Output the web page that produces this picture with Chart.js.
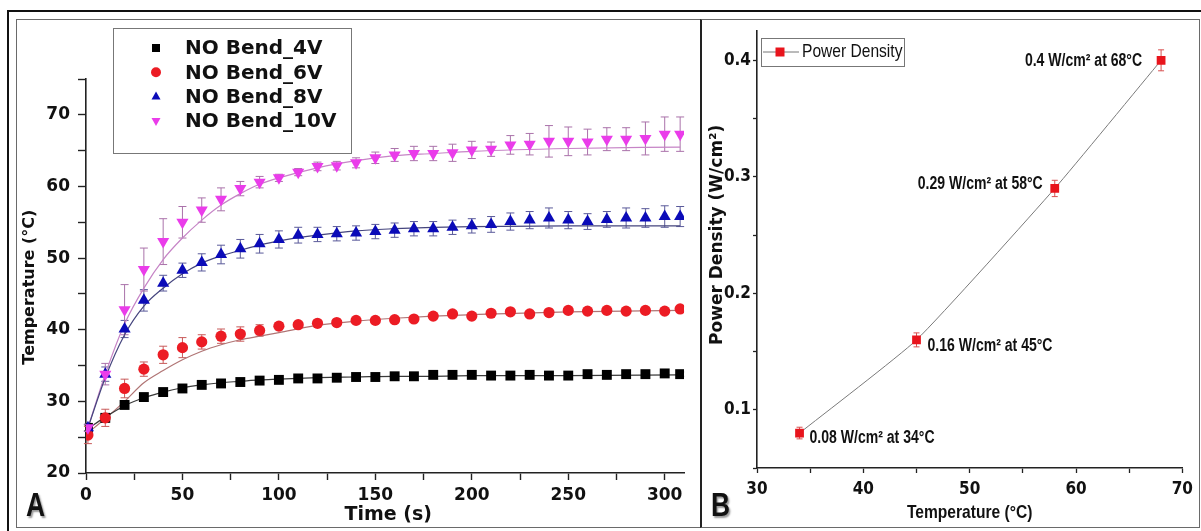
<!DOCTYPE html>
<html>
<head>
<meta charset="utf-8">
<title>Heating response and power density</title>
<script src="https://cdn.jsdelivr.net/npm/chart.js@4.4.1/dist/chart.umd.min.js"></script>
<style>
  html, body { margin: 0; padding: 0; background: #fff; }
  body { width: 1201px; height: 531px; position: relative; overflow: hidden; }
  .frame { position: absolute; box-sizing: border-box; }
  #outer { left: 7px; top: 10px; width: 1194px; height: 521px; border-left: 2px solid #111; border-top: 2px solid #111; }
  #boxA { left: 16px; top: 19px; width: 685px; height: 509px; border: 1.5px solid #6a6a6a; }
  #boxB { left: 700px; top: 19px; width: 500px; height: 509px; border: 1.5px solid #6a6a6a; border-left: 2px solid #222; }
  canvas { position: absolute; }
  #tempChart { left: 16px; top: 19px; }
  #powerChart { left: 700px; top: 19px; }
  .tag { position: absolute; font: bold 33px 'Liberation Sans', sans-serif; line-height: 33px; color: #111; text-shadow: 2px 2px 2px #999; transform: scaleX(0.8); transform-origin: left top; }
</style>
</head>
<body>
<div class="frame" id="outer"></div>
<div class="frame" id="boxA"></div>
<div class="frame" id="boxB"></div>
<canvas id="tempChart" width="684" height="508"></canvas>
<canvas id="powerChart" width="499" height="508"></canvas>
<div class="tag" style="left:26px; top:488px;">A</div>
<div class="tag" style="left:711px; top:488px;">B</div>

<script>
// heating curves (temperature vs time) at four voltages
const time = [1, 10, 20, 30, 40, 50, 60, 70, 80, 90, 100, 110, 120, 130, 140, 150, 160, 170, 180, 190, 200, 210, 220, 230, 240, 250, 260, 270, 280, 290, 300, 308];
const bend4V = [26.3, 27.7, 29.5, 30.6, 31.3, 31.8, 32.3, 32.5, 32.7, 32.9, 33.0, 33.2, 33.2, 33.3, 33.4, 33.4, 33.5, 33.5, 33.7, 33.7, 33.7, 33.6, 33.6, 33.7, 33.6, 33.6, 33.8, 33.7, 33.8, 33.8, 33.9, 33.8];
const bend6V = [25.3, 27.7, 31.8, 34.5, 36.5, 37.5, 38.3, 39.1, 39.4, 39.9, 40.5, 40.7, 40.9, 41.0, 41.3, 41.3, 41.4, 41.5, 41.9, 42.2, 41.9, 42.3, 42.5, 42.2, 42.4, 42.7, 42.6, 42.7, 42.6, 42.7, 42.6, 42.9];
const bend8V = [26.3, 33.8, 40.1, 44.1, 46.5, 48.3, 49.4, 50.5, 51.3, 52.0, 52.6, 53.2, 53.3, 53.4, 53.5, 53.7, 53.9, 54.1, 54.1, 54.3, 54.5, 54.7, 55.1, 55.3, 55.6, 55.3, 55.1, 55.4, 55.6, 55.6, 55.8, 55.8];
const bend10V = [26.3, 33.8, 42.8, 48.4, 52.3, 55.0, 56.7, 58.2, 59.7, 60.6, 61.2, 62.0, 62.8, 62.9, 63.3, 64.0, 64.4, 64.6, 64.6, 64.7, 65.1, 65.2, 65.8, 65.9, 66.3, 66.3, 66.2, 66.6, 66.6, 66.7, 67.3, 67.3];

// standard deviations
const err4V = [0.4, 0.6, 0.4, 0.3, 0.3, 0.3, 0.3, 0.3, 0.3, 0.3, 0.3, 0.3, 0.3, 0.3, 0.3, 0.3, 0.3, 0.3, 0.3, 0.3, 0.3, 0.3, 0.3, 0.3, 0.3, 0.3, 0.3, 0.3, 0.3, 0.3, 0.3, 0.3];
const err6V = [1.2, 1.2, 1.3, 1.0, 1.2, 1.4, 1.0, 1.0, 1.0, 0.8, 0.5, 0.4, 0.4, 0.4, 0.4, 0.4, 0.3, 0.3, 0.3, 0.3, 0.3, 0.3, 0.3, 0.3, 0.3, 0.3, 0.3, 0.3, 0.3, 0.3, 0.3, 0.3];
const err8V = [0.5, 1.0, 1.2, 1.5, 1.1, 1.0, 1.2, 1.3, 1.3, 1.3, 1.2, 1.1, 1.0, 1.0, 1.0, 1.0, 1.0, 1.0, 1.0, 1.0, 1.0, 1.1, 1.2, 1.2, 1.4, 1.2, 1.1, 1.1, 1.4, 1.3, 1.5, 1.4];
const err10V = [0.5, 1.5, 3.5, 3.0, 3.2, 2.2, 1.7, 1.6, 1.0, 0.8, 0.5, 0.5, 0.6, 0.6, 0.7, 0.8, 0.9, 1.0, 1.0, 1.2, 1.2, 1.0, 1.3, 1.5, 2.2, 2.0, 1.8, 1.6, 1.6, 2.3, 2.4, 2.4];

// fitted curves
const fitTime = [1, 10, 20, 30, 40, 50, 60, 70, 80, 90, 100, 120, 140, 160, 180, 200, 250, 308];
const fit4V = [26.2, 27.8, 29.4, 30.5, 31.3, 31.9, 32.3, 32.6, 32.8, 33.0, 33.1, 33.3, 33.4, 33.5, 33.5, 33.6, 33.6, 33.7];
const fit6V = [25.6, 27.6, 30.0, 32.6, 34.3, 35.8, 37.0, 37.9, 38.6, 39.1, 39.6, 40.6, 41.2, 41.6, 41.9, 42.1, 42.5, 42.7];
const fit8V = [26.3, 33.3, 39.3, 43.3, 45.8, 47.8, 49.3, 50.3, 51.1, 51.8, 52.4, 53.2, 53.8, 54.1, 54.3, 54.4, 54.5, 54.5];
const fit10V = [26.3, 33.8, 40.8, 45.8, 49.8, 52.8, 55.3, 57.4, 59.0, 60.3, 61.2, 62.6, 63.6, 64.3, 64.6, 64.9, 65.3, 65.5];

const seriesNames = ['NO Bend_4V', 'NO Bend_6V', 'NO Bend_8V', 'NO Bend_10V'];

const timeTicks = [0, 25, 50, 75, 100, 125, 150, 175, 200, 225, 250, 275, 300];
const timeLabels = [0, 50, 100, 150, 200, 250, 300];
const tempTicks = [20, 25, 30, 35, 40, 45, 50, 55, 60, 65, 70, 75];
const tempLabels = [20, 30, 40, 50, 60, 70];

// power density vs steady temperature
const padTemp = [34, 45, 58, 68];
const padPower = [0.08, 0.16, 0.29, 0.4];
const padErr = [0.005, 0.006, 0.007, 0.009];
const padTempTicks = [30, 35, 40, 45, 50, 55, 60, 65, 70];
const padTempLabels = [30, 40, 50, 60, 70];
const powerTicks = [0.05, 0.1, 0.15, 0.2, 0.25, 0.3, 0.35, 0.4];
const powerLabels = [0.1, 0.2, 0.3, 0.4];

const pts = (xs, ys) => xs.map((x, i) => ({ x: x, y: ys[i] }));
const wide = "'DejaVu Sans', 'Verdana', sans-serif";
const condensed = "'DejaVu Sans Condensed', 'DejaVu Sans', sans-serif";
const arial = "'Liberation Sans', Arial, sans-serif";

function drawMarker(ctx, shape, x, y, r, color) {
  ctx.fillStyle = color;
  ctx.beginPath();
  if (shape === 'rect') {
    ctx.rect(x - r, y - r, 2 * r, 2 * r);
  } else if (shape === 'circle') {
    ctx.arc(x, y, r, 0, Math.PI * 2);
  } else if (shape === 'up') {
    ctx.moveTo(x, y - r);
    ctx.lineTo(x + r * 0.9, y + r * 0.6);
    ctx.lineTo(x - r * 0.9, y + r * 0.6);
  } else {
    ctx.moveTo(x, y + r);
    ctx.lineTo(x + r * 0.9, y - r * 0.6);
    ctx.lineTo(x - r * 0.9, y - r * 0.6);
  }
  ctx.closePath();
  ctx.fill();
}

// Arial squeezed horizontally, close to a narrow face
function narrowText(ctx, text, x, y, align, squeeze) {
  ctx.save();
  ctx.translate(x, y);
  ctx.scale(squeeze || 0.82, 1);
  ctx.textAlign = align;
  ctx.fillText(text, 0, 0);
  ctx.restore();
}

// vertical error bars with caps, under the markers
const errorBars = {
  id: 'errorBars',
  beforeDatasetsDraw(chart) {
    const { ctx, scales: { x, y } } = chart;
    ctx.save();
    chart.data.datasets.forEach(ds => {
      if (!ds.errors) return;
      ctx.strokeStyle = ds.errorColor;
      ctx.lineWidth = 1;
      ds.data.forEach((p, i) => {
        const px = x.getPixelForValue(p.x);
        const top = y.getPixelForValue(p.y + ds.errors[i]);
        const bot = y.getPixelForValue(p.y - ds.errors[i]);
        const w = ds.capWidth;
        ctx.beginPath();
        ctx.moveTo(px, top); ctx.lineTo(px, bot);
        ctx.moveTo(px - w, top); ctx.lineTo(px + w, top);
        ctx.moveTo(px - w, bot); ctx.lineTo(px + w, bot);
        ctx.stroke();
      });
    });
    ctx.restore();
  }
};

// boxed legend for the heating curves
const heatLegend = {
  id: 'heatLegend',
  afterDraw(chart) {
    const ctx = chart.ctx;
    ctx.save();
    ctx.strokeStyle = '#777';
    ctx.lineWidth = 1;
    ctx.strokeRect(97.5, 9.5, 238, 125);
    ctx.font = 'bold 20px ' + wide;
    ctx.textBaseline = 'middle';
    chart.data.datasets.filter(ds => ds.legendShape).forEach((ds, i) => {
      const y = 29 + i * 24.3;
      drawMarker(ctx, ds.legendShape, 140, y, ds.legendShape === 'rect' ? 4 : 5, ds.backgroundColor);
      ctx.fillStyle = '#111';
      ctx.fillText(ds.label, 169, y + 1);
    });
    ctx.restore();
  }
};

const pointSets = [
  { values: bend4V, errors: err4V, color: '#000000', errColor: '#555555', style: 'rect', radius: 7, rot: 0, legend: 'rect', order: 4 },
  { values: bend6V, errors: err6V, color: '#ec1c24', errColor: '#c85a5a', style: 'circle', radius: 5.6, rot: 0, legend: 'circle', order: 3 },
  { values: bend8V, errors: err8V, color: '#0b0bb8', errColor: '#5a5a9a', style: 'triangle', radius: 7, rot: 0, legend: 'up', order: 2 },
  { values: bend10V, errors: err10V, color: '#ea3cea', errColor: '#aa72aa', style: 'triangle', radius: 7, rot: 180, legend: 'down', order: 1 }
];
const fitSets = [
  { values: fit4V, color: '#3a3a3a' },
  { values: fit6V, color: '#b07474' },
  { values: fit8V, color: '#45457e' },
  { values: fit10V, color: '#c684c6' }
];

const heatDatasets = [];
fitSets.forEach(f => heatDatasets.push({
  data: pts(fitTime, f.values),
  showLine: true, pointRadius: 0, borderColor: f.color, borderWidth: 1.2,
  cubicInterpolationMode: 'monotone', order: 10
}));
pointSets.forEach((s, i) => heatDatasets.push({
  label: seriesNames[i],
  data: pts(time, s.values),
  errors: s.errors, errorColor: s.errColor, capWidth: 4,
  showLine: false, pointStyle: s.style, pointRadius: s.radius, pointRotation: s.rot,
  backgroundColor: s.color, borderColor: s.color, borderWidth: 0,
  legendShape: s.legend, order: s.order
}));

new Chart(document.getElementById('tempChart'), {
  type: 'scatter',
  data: { datasets: heatDatasets },
  options: {
    responsive: false,
    animation: false,
    events: [],
    layout: { padding: { top: 60, right: 16, left: 0, bottom: 0 } },
    plugins: { legend: { display: false }, tooltip: { enabled: false } },
    scales: {
      x: {
        type: 'linear', min: 0, max: 310,
        afterBuildTicks: s => { s.ticks = timeTicks.map(v => ({ value: v })); },
        afterFit: s => { s.height = 54; },
        border: { color: '#222', width: 1.6 },
        grid: { drawOnChartArea: false, tickLength: 7, tickColor: '#222', tickWidth: 1.4 },
        ticks: {
          autoSkip: false, maxRotation: 0, padding: 5, color: '#111',
          font: { family: wide, weight: 'bold', size: 17 },
          callback: v => timeLabels.includes(v) ? String(v) : ''
        },
        title: {
          display: true, text: '\u00a0Time (s)', color: '#111',
          font: { family: wide, weight: 'bold', size: 19 },
          padding: { top: 0, bottom: 1 }
        }
      },
      y: {
        type: 'linear', min: 20, max: 75,
        afterBuildTicks: s => { s.ticks = tempTicks.map(v => ({ value: v })); },
        afterFit: s => { s.width = 70; },
        border: { color: '#222', width: 1.6 },
        grid: { drawOnChartArea: false, tickLength: 8, tickColor: '#222', tickWidth: 1.4 },
        ticks: {
          autoSkip: false, padding: 8, color: '#111',
          font: { family: wide, weight: 'bold', size: 17 },
          callback: v => tempLabels.includes(v) ? String(v) : ''
        },
        title: {
          display: true, text: 'Temperature (°C)    ', color: '#111',
          font: { family: wide, weight: 'bold', size: 16 },
          padding: { top: 4, bottom: 0 }
        }
      }
    }
  },
  plugins: [errorBars, heatLegend]
});

// value labels next to each power density point, axis title and legend
const labelPlacement = [
  { dx: 10, dy: 5, align: 'left' },
  { dx: 11, dy: 6, align: 'left' },
  { dx: -12, dy: -4, align: 'right' },
  { dx: -19, dy: 1, align: 'right' }
];
const powerLabelsPlugin = {
  id: 'powerLabels',
  afterDraw(chart) {
    const { ctx, chartArea, scales: { x, y } } = chart;
    ctx.save();
    ctx.fillStyle = '#111';
    ctx.textBaseline = 'middle';
    ctx.font = 'bold 18px ' + arial;
    padPower.forEach((p, i) => {
      const pl = labelPlacement[i];
      narrowText(ctx, p + ' W/cm² at ' + padTemp[i] + '°C',
        x.getPixelForValue(padTemp[i]) + pl.dx, y.getPixelForValue(p) + pl.dy, pl.align, 0.78);
    });

    ctx.font = 'bold 19px ' + arial;
    narrowText(ctx, 'Temperature (°C)', (chartArea.left + chartArea.right) / 2, 494, 'center');

    // legend box
    ctx.strokeStyle = '#777';
    ctx.lineWidth = 1;
    ctx.strokeRect(61.5, 19.5, 143, 28);
    ctx.beginPath();
    ctx.moveTo(63, 33); ctx.lineTo(99, 33);
    ctx.stroke();
    drawMarker(ctx, 'rect', 80, 33, 4.5, '#e8141c');
    ctx.font = '19px ' + arial;
    ctx.fillStyle = '#111';
    narrowText(ctx, chart.data.datasets[0].label, 102, 33, 'left');
    ctx.restore();
  }
};

new Chart(document.getElementById('powerChart'), {
  type: 'scatter',
  data: {
    datasets: [{
      label: 'Power Density',
      data: pts(padTemp, padPower),
      errors: padErr, errorColor: '#d85050', capWidth: 3,
      showLine: true, borderColor: '#7a7a7a', borderWidth: 1, tension: 0.15,
      pointStyle: 'rect', pointRadius: 6.2, pointBorderWidth: 0,
      pointBackgroundColor: '#e8141c'
    }]
  },
  options: {
    responsive: false,
    animation: false,
    events: [],
    layout: { padding: { top: 11, right: 11, left: 0, bottom: 0 } },
    plugins: { legend: { display: false }, tooltip: { enabled: false } },
    scales: {
      x: {
        type: 'linear', min: 30, max: 70,
        afterBuildTicks: s => { s.ticks = padTempTicks.map(v => ({ value: v })); },
        afterFit: s => { s.height = 59; },
        border: { color: '#222', width: 1.6 },
        grid: { drawOnChartArea: false, tickLength: 5, tickColor: '#222', tickWidth: 1.3 },
        ticks: {
          autoSkip: false, maxRotation: 0, padding: 6, color: '#111',
          font: { family: condensed, weight: 'bold', size: 17 },
          callback: v => padTempLabels.includes(v) ? String(v) : ''
        }
      },
      y: {
        type: 'linear', min: 0.05, max: 0.425,
        afterBuildTicks: s => { s.ticks = powerTicks.map(v => ({ value: v })); },
        afterFit: s => { s.width = 57; },
        border: { color: '#222', width: 1.6 },
        grid: { drawOnChartArea: false, tickLength: 4, tickColor: '#222', tickWidth: 1.3 },
        ticks: {
          autoSkip: false, padding: 2, color: '#111',
          font: { family: condensed, weight: 'bold', size: 17 },
          callback: v => powerLabels.includes(v) ? String(v) : ''
        },
        title: {
          display: true, text: '     Power Density (W/cm²)', color: '#111',
          font: { family: wide, weight: 'bold', size: 17 },
          padding: { top: 7, bottom: 0 }
        }
      }
    }
  },
  plugins: [errorBars, powerLabelsPlugin]
});
</script>
</body>
</html>
